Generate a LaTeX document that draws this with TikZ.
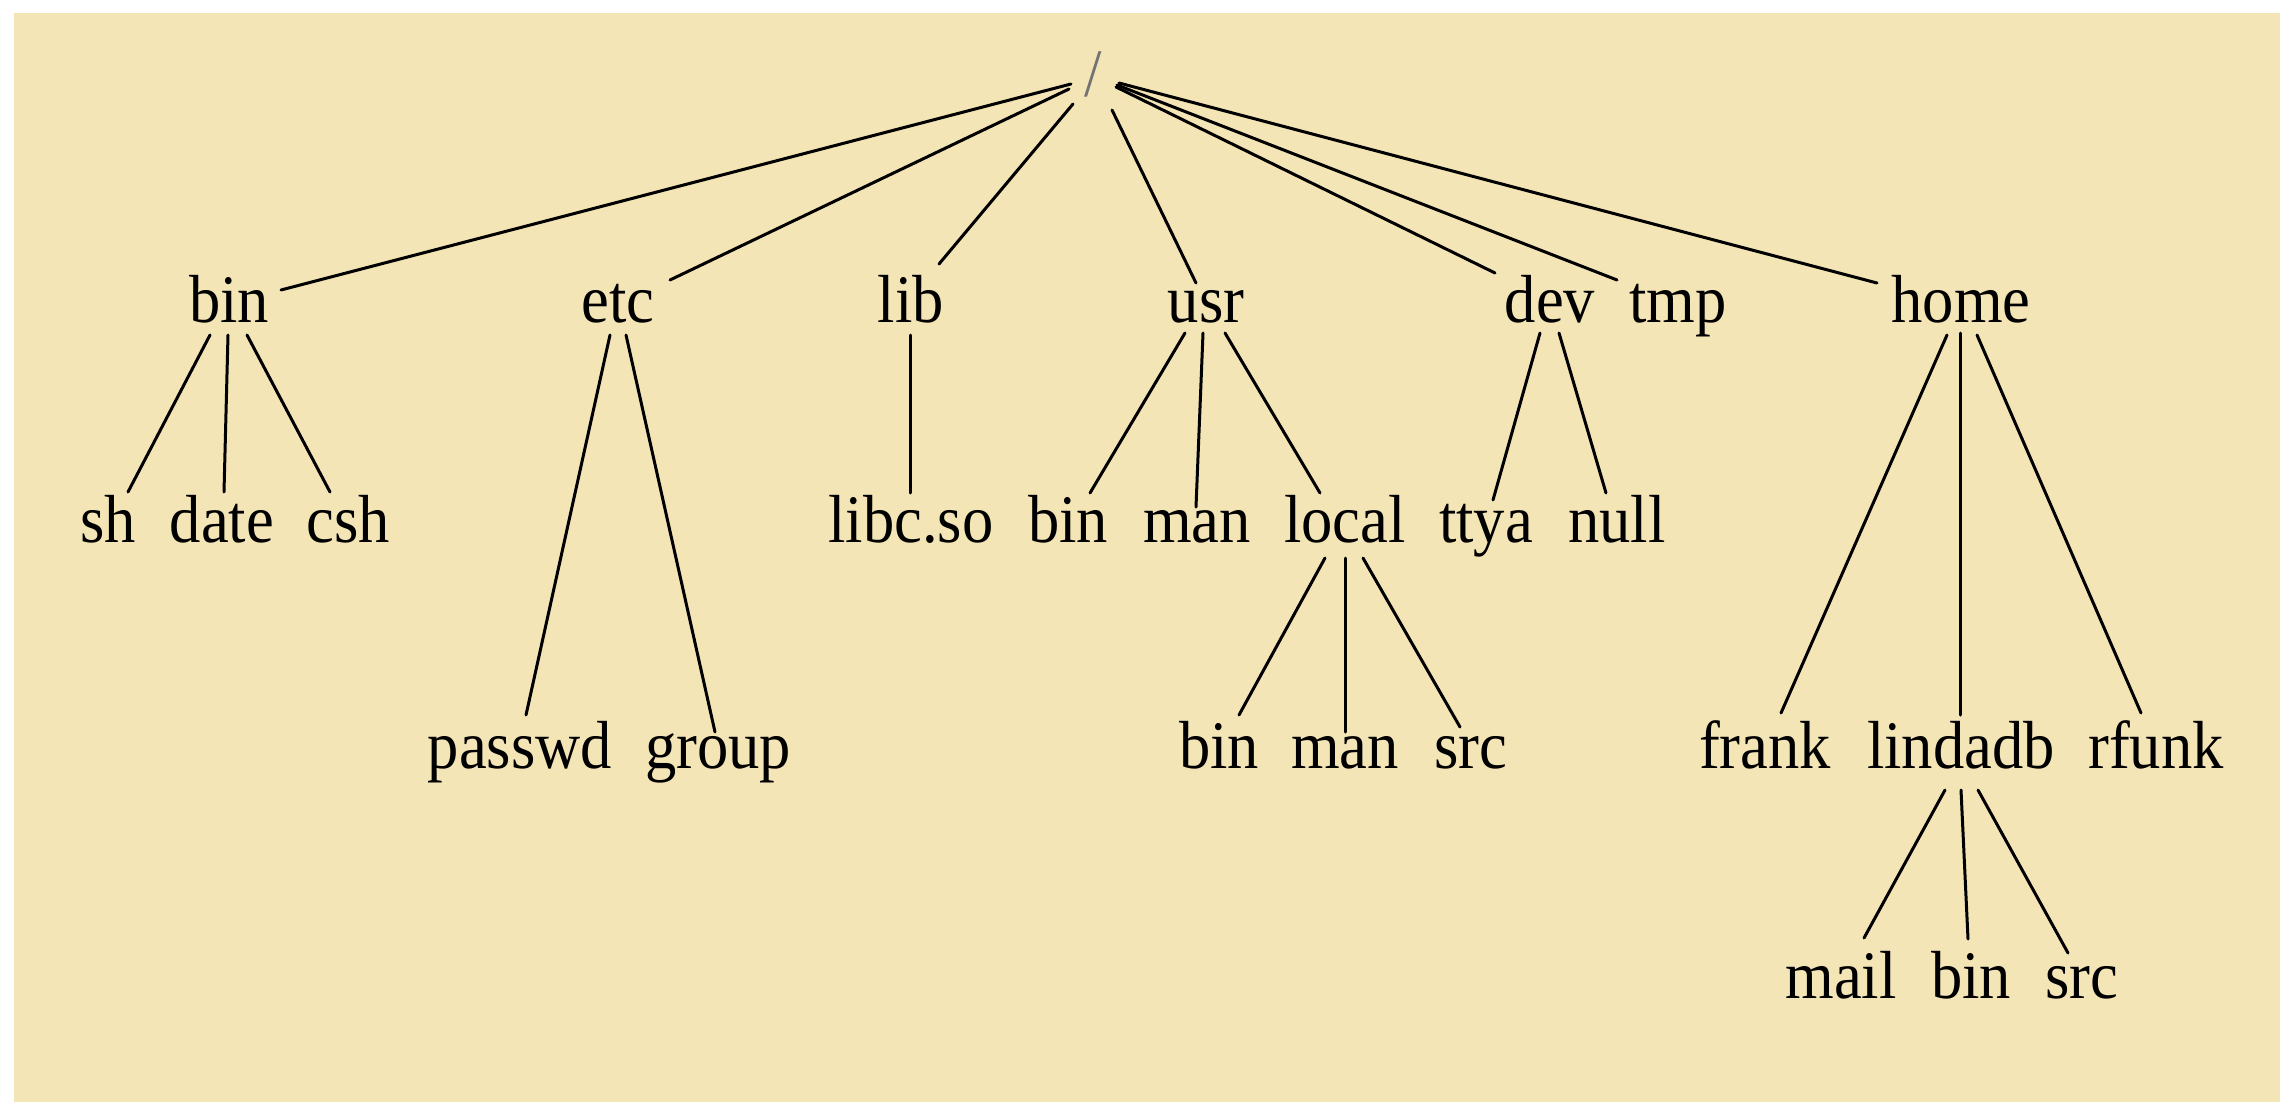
\documentclass[tikz,border=0pt]{standalone}
\usepackage{fontspec}
\setmainfont[FakeStretch=0.92]{Liberation Serif}
\definecolor{paper}{RGB}{244,229,182}
\newcommand\treelink[4]{\draw[edge] ([shift={#2}]#1.base) -- ([shift={#4}]#3.base);}
\begin{document}
\begin{tikzpicture}[x=0.5pt,y=-0.5pt,
  lbl/.style={anchor=base,inner sep=0pt,font=\fontsize{34}{40}\selectfont},
  edge/.style={line width=1.5pt,line cap=round}]
\useasboundingbox (0,0) rectangle (2280,1102);
\fill[white] (0,0) rectangle (2280,1102);
\fill[paper] (14,13) rectangle (2280,1102);
% nodes
\node[lbl,text=black!55] (root) at (1093,97) {/};
\node[lbl] (bin)  at (229,322)  {bin};
\node[lbl] (etc)  at (618,322)  {etc};
\node[lbl] (lib)  at (911,322)  {lib};
\node[lbl] (usr)  at (1206,322) {usr};
\node[lbl] (dev)  at (1550,322) {dev};
\node[lbl] (tmp)  at (1678,322) {tmp};
\node[lbl] (home) at (1961,322) {home};
\node[lbl] (sh)   at (108,542)  {sh};
\node[lbl] (date) at (222,542)  {date};
\node[lbl] (csh)  at (348,542)  {csh};
\node[lbl] (libc) at (911,542)  {libc.so};
\node[lbl] (ubin) at (1068,542) {bin};
\node[lbl] (uman) at (1197,542) {man};
\node[lbl] (local) at (1345,542) {local};
\node[lbl] (ttya) at (1486,542) {ttya};
\node[lbl] (null) at (1617,542) {null};
\node[lbl] (passwd) at (520,768) {passwd};
\node[lbl] (group) at (718,768) {group};
\node[lbl] (lbin) at (1219,768) {bin};
\node[lbl] (lman) at (1345,768) {man};
\node[lbl] (lsrc) at (1471,768) {src};
\node[lbl] (frank) at (1765,768) {frank};
\node[lbl] (lindadb) at (1961,768) {lindadb};
\node[lbl] (rfunk) at (2156,768) {rfunk};
\node[lbl] (mail) at (1841,998) {mail};
\node[lbl] (hbin) at (1971,998) {bin};
\node[lbl] (hsrc) at (2082,998) {src};
% connectors from root
\treelink{root}{(-22,-13)}{bin}{(52,-32)}
\treelink{root}{(-24,-8)}{etc}{(52,-42)}
\treelink{root}{(-20,7)}{lib}{(28,-58)}
\treelink{root}{(19,13)}{usr}{(-10,-39)}
\treelink{root}{(23,-10)}{dev}{(-55,-49)}
\treelink{root}{(24,-12)}{tmp}{(-61,-42)}
\treelink{root}{(26,-14)}{home}{(-84,-39)}
% bin
\treelink{bin}{(-19,13)}{sh}{(20,-50)}
\treelink{bin}{(-1,13)}{date}{(2,-50)}
\treelink{bin}{(18,13)}{csh}{(-18,-50)}
% etc
\treelink{etc}{(-8,13)}{passwd}{(6,-53)}
\treelink{etc}{(8,13)}{group}{(-3,-36)}
% lib
\treelink{lib}{(-1,13)}{libc}{(-1,-49)}
% usr
\treelink{usr}{(-21,11)}{ubin}{(22,-49)}
\treelink{usr}{(-3,11)}{uman}{(-1,-35)}
\treelink{usr}{(19,11)}{local}{(-25,-49)}
% dev
\treelink{dev}{(-10,11)}{ttya}{(7,-42)}
\treelink{dev}{(9,11)}{null}{(-11,-49)}
% local
\treelink{local}{(-20,16)}{lbin}{(20,-53)}
\treelink{local}{(0,16)}{lman}{(0,-36)}
\treelink{local}{(18,16)}{lsrc}{(-11,-41)}
% home
\treelink{home}{(-14,13)}{frank}{(16,-55)}
\treelink{home}{(-1,11)}{lindadb}{(-1,-53)}
\treelink{home}{(16,13)}{rfunk}{(-15,-55)}
% lindadb
\treelink{lindadb}{(-16,22)}{mail}{(23,-60)}
\treelink{lindadb}{(0,22)}{hbin}{(-3,-59)}
\treelink{lindadb}{(17,22)}{hsrc}{(-14,-45)}
\end{tikzpicture}
\end{document}
